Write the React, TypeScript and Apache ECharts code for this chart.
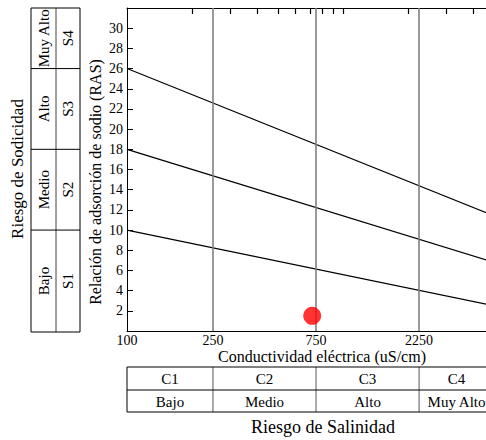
import React, { useEffect, useRef } from "react";
import * as echarts from "echarts";

// ---- data ----
const ecRange = [100, 5000];
const ecLabels = [100, 250, 750, 2250];
const ecBoundaries = [250, 750, 2250];
const ecTopTicks = [200, 300, 400, 500, 600, 700, 800, 900, 1000, 2000, 3000, 4000, 5000];
const sarRange = [0, 32];
const lineEnds = [100, 5000];
const lineS34 = [26, 11.4];
const lineS23 = [18, 6.8];
const lineS12 = [10, 2.5];
const sarBoundaries = [10, 18, 26];
const salinityClasses = ["C1", "C2", "C3", "C4"];
const salinityLevels = ["Bajo", "Medio", "Alto", "Muy Alto"];
const sodicityClasses = ["S1", "S2", "S3", "S4"];
const sodicityLevels = ["Bajo", "Medio", "Alto", "Muy Alto"];
const samples = [[720, 1.5]];

const FONT = "Liberation Serif";

export default function App() {
  const ref = useRef<HTMLDivElement>(null);
  useEffect(() => {
    if (!ref.current) return;
    const chart = echarts.init(ref.current, null, { renderer: "svg" });
    const mkLine = (vals: number[]) => ({
      type: "line",
      data: lineEnds.map((x, i) => [x, vals[i]]),
      symbol: "none",
      lineStyle: { color: "#000", width: 1.2 },
      silent: true,
      z: 3,
    });
    chart.setOption({
      animation: false,
      textStyle: { fontFamily: FONT },
      grid: { left: 127, top: 8, width: 367, height: 323, containLabel: false },
      xAxis: [
        {
          type: "log",
          logBase: 10,
          min: ecRange[0],
          max: ecRange[1],
          position: "bottom",
          axisLine: { show: true, lineStyle: { color: "#000", width: 1 } },
          axisTick: { show: false },
          splitLine: { show: false },
          minorTick: { show: false },
          axisLabel: {
            customValues: ecLabels,
            formatter: (v: number) => String(Math.round(v)),
            color: "#000",
            fontFamily: FONT,
            fontSize: 14,
            margin: 2,
          },
        },
        {
          type: "log",
          logBase: 10,
          min: ecRange[0],
          max: ecRange[1],
          position: "top",
          axisLine: { show: true, onZero: false, lineStyle: { color: "#000", width: 1 } },
          axisTick: { show: false },
          splitLine: { show: false },
          axisLabel: { show: false },
        },
      ],
      yAxis: {
        type: "value",
        min: sarRange[0],
        max: sarRange[1],
        interval: 2,
        axisLine: { show: true, lineStyle: { color: "#000", width: 1 } },
        axisTick: { show: true, inside: true, length: 6, lineStyle: { color: "#000", width: 1 } },
        splitLine: { show: false },
        axisLabel: {
          formatter: (v: number) => (v === sarRange[0] || v === sarRange[1] ? "" : String(v)),
          color: "#000",
          fontFamily: FONT,
          fontSize: 14,
          margin: 4,
        },
      },
      series: [
        {
          type: "line",
          data: [],
          markLine: {
            silent: true,
            symbol: "none",
            label: { show: false },
            lineStyle: { color: "#808080", width: 1.6, type: "solid" },
            data: ecBoundaries.map((v) => ({ xAxis: v })),
          },
        },
        mkLine(lineS34),
        mkLine(lineS23),
        mkLine(lineS12),
        {
          type: "scatter",
          data: samples,
          symbol: "circle",
          symbolSize: 18,
          itemStyle: { color: "#ff0000" },
          z: 5,
        },
      ],
    });

    const xPx = (v: number) => chart.convertToPixel({ xAxisIndex: 0 }, v) as number;
    const yPx = (v: number) => chart.convertToPixel({ yAxisIndex: 0 }, v) as number;
    const yTop = yPx(sarRange[1]);
    const yBot = yPx(sarRange[0]) + 1;
    const g: any[] = [];
    const line = (x1: number, y1: number, x2: number, y2: number, color = "#000", w = 1) =>
      g.push({ type: "line", z: 10, shape: { x1, y1, x2, y2 }, style: { stroke: color, lineWidth: w }, silent: true });
    const text = (t: string, x: number, y: number, size: number, rot = 0) =>
      g.push({
        type: "text",
        x,
        y,
        rotation: rot,
        silent: true,
        style: {
          text: t,
          fill: "#000",
          fontFamily: FONT,
          fontSize: size,
          align: "center",
          verticalAlign: "middle",
        },
      });

    // top minor ticks of the log axis
    ecTopTicks.forEach((v) => {
      const x = Math.round(xPx(v)) + 0.5;
      line(x, yTop, x, yTop + 6, "#000", 1.2);
    });

    // left sodicity table
    const lx = [31, 56, 80];
    const rows = [yBot, ...sarBoundaries.map(yPx), yTop];
    lx.forEach((x, i) => line(x, yTop, x, yBot, i === 1 ? "#444" : "#000"));
    rows.forEach((y) => line(lx[0], y, lx[2], y));
    for (let i = 0; i < 4; i++) {
      const cy = (rows[i] + rows[i + 1]) / 2;
      text(sodicityLevels[i], (lx[0] + lx[1]) / 2, cy, 15, Math.PI / 2);
      text(sodicityClasses[i], (lx[1] + lx[2]) / 2, cy, 15, Math.PI / 2);
    }

    // bottom salinity table
    const cols = [ecRange[0], ...ecBoundaries, ecRange[1]].map(xPx);
    const ty = [367, 390, 412];
    cols.forEach((x, i) => line(x, ty[0], x, ty[2], i === 0 ? "#000" : "#555"));
    ty.forEach((y) => line(cols[0], y, cols[4], y));
    for (let i = 0; i < 4; i++) {
      const cx = (cols[i] + cols[i + 1]) / 2;
      text(salinityClasses[i], cx, (ty[0] + ty[1]) / 2 + 0.5, 15);
      text(salinityLevels[i], cx, (ty[1] + ty[2]) / 2 + 0.5, 15);
    }

    // titles
    text("Conductividad eléctrica (uS/cm)", 322, 356, 16);
    text("Riesgo de Salinidad", 323, 427, 18);
    text("Relación de adsorción de sodio (RAS)", 95, 182, 16, Math.PI / 2);
    text("Riesgo de Sodicidad", 17, 169, 17, Math.PI / 2);

    chart.setOption({ graphic: g });
    return () => chart.dispose();
  }, []);

  return (
    <div style={{ position: "fixed", left: 0, top: 0, width: 486, height: 440, overflow: "hidden", background: "#fff" }}>
      <div ref={ref} style={{ width: 494, height: 440 }} />
    </div>
  );
}
